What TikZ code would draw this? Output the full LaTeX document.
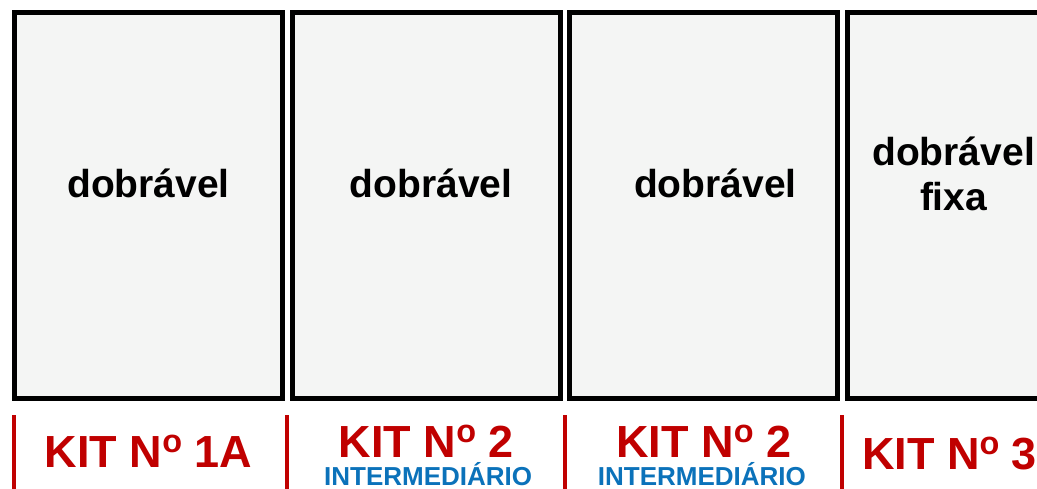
\documentclass[tikz,border=0pt]{standalone}
\usepackage{fontspec}
\setmainfont{Liberation Sans}
\usetikzlibrary{positioning}
\definecolor{kitred}{HTML}{C00000}
\definecolor{kitblue}{HTML}{0B72BA}
\definecolor{paper}{HTML}{F4F5F4}
\def\kitno{N\raisebox{.33em}{\scalebox{.72}{o}}}

\begin{document}
\begin{tikzpicture}[x=1pt,y=-1pt,
    panel/.style={draw=black,line width=5pt,fill=paper,minimum width=268pt,minimum height=385.5pt,inner sep=0pt},
    word/.style={font=\fontsize{39}{45}\selectfont\bfseries,align=center,anchor=base,inner sep=0pt},
    kit/.style={font=\fontsize{45}{50}\selectfont\bfseries,text=kitred,anchor=base,inner sep=0pt},
    level/.style={font=\fontsize{26}{30}\selectfont\bfseries,text=kitblue,anchor=base,inner sep=0pt},
    bar/.style={draw=kitred,line width=4pt}]

    \useasboundingbox (0,0) rectangle (1037,489);
    \clip (0,0) rectangle (1037,489);

    % the four panels
    \begin{scope}[node distance=277.7pt]
        \node[panel] (P1) at (148.5,205.75) {};
        \node[panel,right of=P1] (P2) {};
        \node[panel,right of=P2] (P3) {};
        \node[panel,right of=P3] (P4) {};
    \end{scope}

    \node[word] (W1) at ([yshift=7.75pt]P1.center) {dobrável};
    \node[word] (W2) at ([xshift=5pt,yshift=7.75pt]P2.center) {dobrável};
    \node[word] (W3) at ([xshift=11.5pt,yshift=7.75pt]P3.center) {dobrável};
    \node[word] (W4) at ([xshift=-28pt,yshift=-5.25pt]P4.center) {dobrável\\fixa};

    % kit labels under the panels
    \node[kit] (K1) at ([yshift=-66pt]P1.south) {KIT \kitno{} 1A};
    \node[kit] (K2) at ([yshift=-56pt]P2.south) {KIT \kitno{} 2};
    \node[level] (L2) at ([xshift=2pt,yshift=-84.5pt]P2.south) {INTERMEDIÁRIO};
    \node[kit] (K3) at ([yshift=-56pt]P3.south) {KIT \kitno{} 2};
    \node[level] (L3) at ([xshift=-2pt,yshift=-84.5pt]P3.south) {INTERMEDIÁRIO};
    \node[kit] (K4) at ([xshift=-32pt,yshift=-68pt]P4.south) {KIT \kitno{} 3};

    \foreach \x in {14,286.5,564.5,842}
        \draw[bar] (\x,415) -- (\x,489);

\end{tikzpicture}
\end{document}
